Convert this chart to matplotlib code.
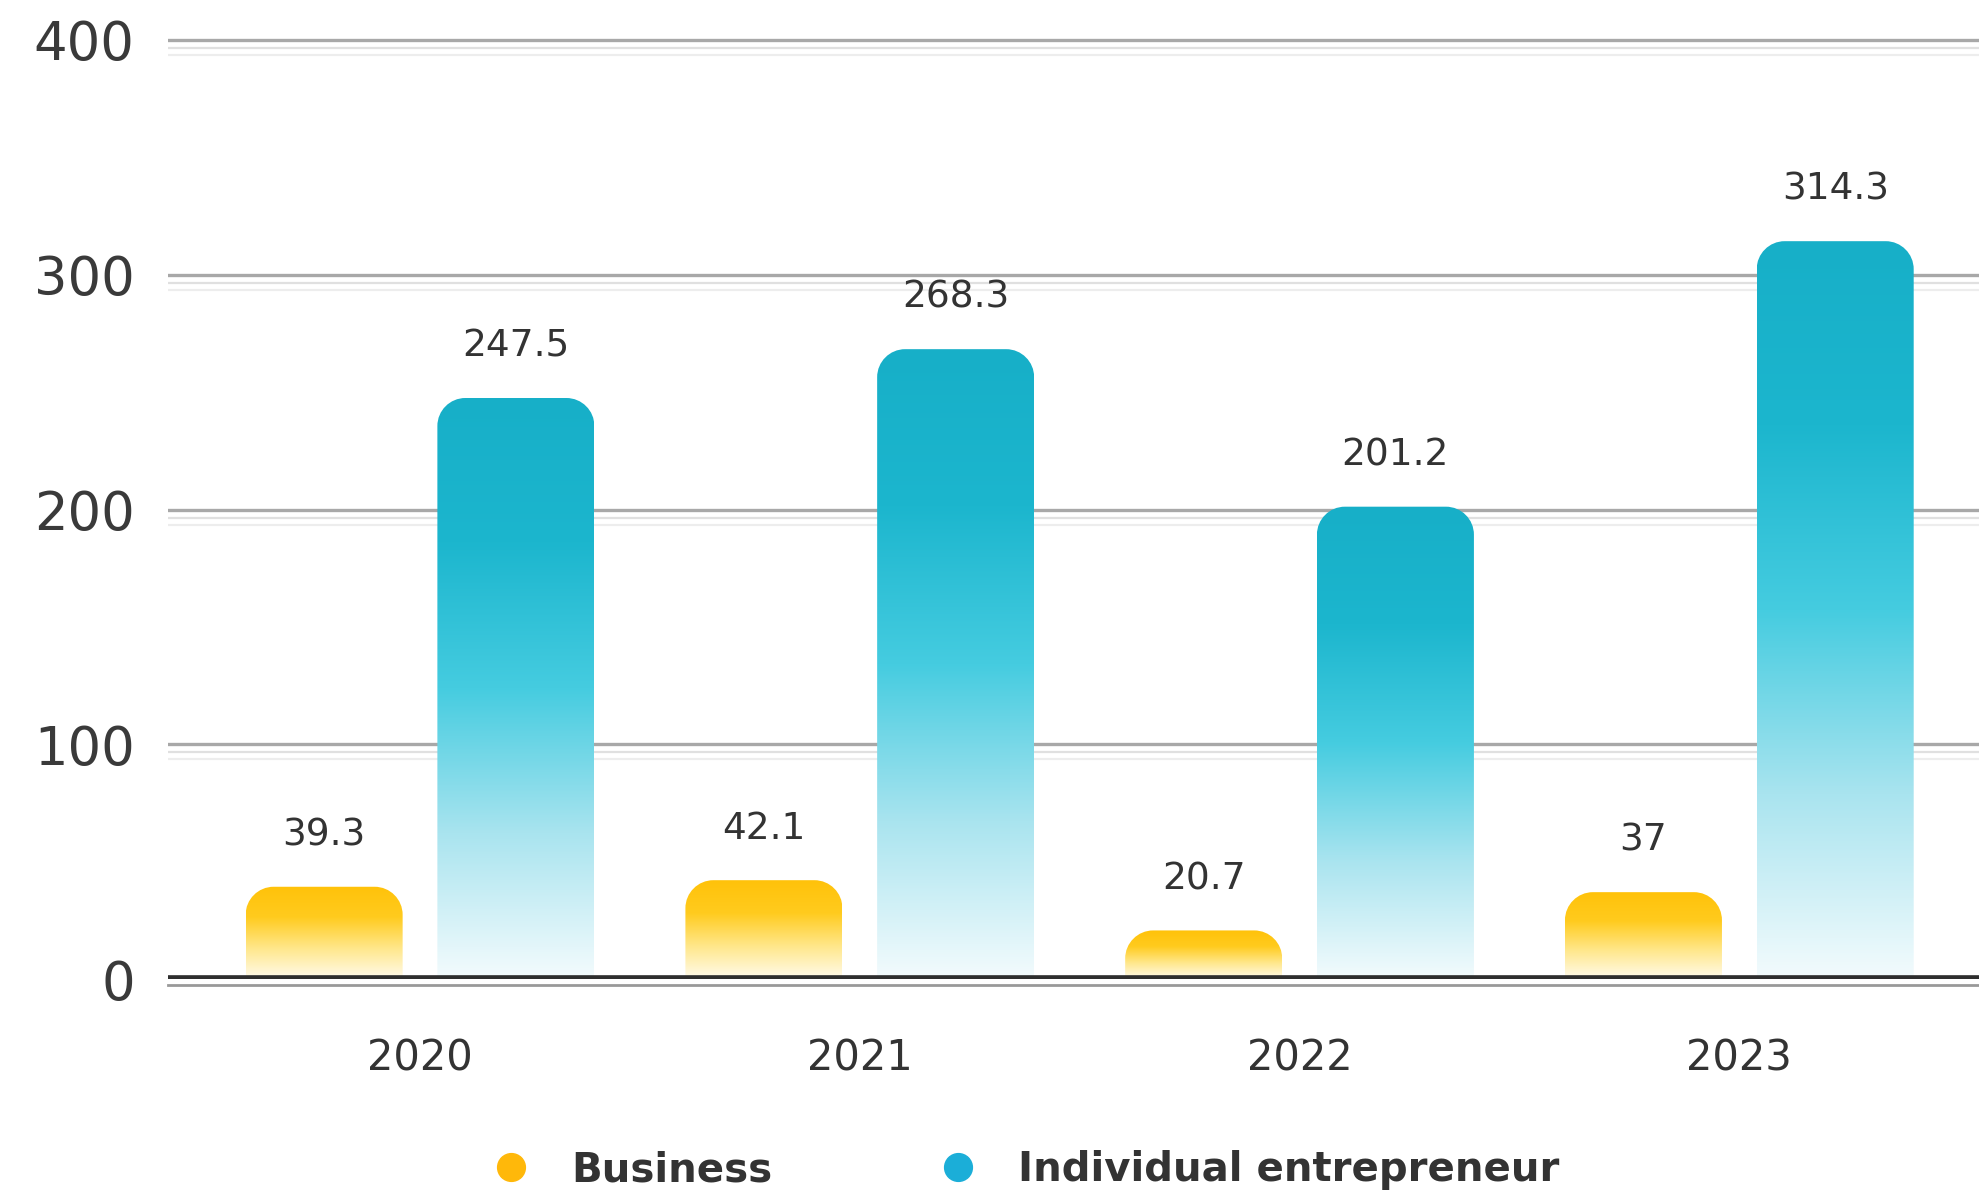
import matplotlib
matplotlib.use("Agg")
import matplotlib.pyplot as plt
import numpy as np
from matplotlib.path import Path
from matplotlib.patches import PathPatch
from matplotlib.colors import LinearSegmentedColormap
from matplotlib.lines import Line2D
from matplotlib import transforms

years = ["2020", "2021", "2022", "2023"]
business = [39.3, 42.1, 20.7, 37]
individual = [247.5, 268.3, 201.2, 314.3]
series_names = ["Business", "Individual entrepreneur"]
y_ticks = [0, 100, 200, 300, 400]

TEXT = "#333333"
BAR_W = 0.357
OFFSET = 0.218

gold_cmap = LinearSegmentedColormap.from_list(
    "gold", ["#FFFBEC", "#FFE78A", "#FFCB1E", "#FFC20A"])
blue_cmap = LinearSegmentedColormap.from_list(
    "blue", ["#F3FBFD", "#A9E4EF", "#45CCE0", "#1CB6CE", "#17AFC8"])


def rounded_top(x0, w, h, rx, ry):
    # rectangle whose two top corners are rounded (quarter ellipses in data units)
    ry = min(ry, h * 0.6)
    k = 0.5523
    verts = [
        (x0, 0), (x0, h - ry),
        (x0, h - ry + k * ry), (x0 + rx - k * rx, h), (x0 + rx, h),
        (x0 + w - rx, h),
        (x0 + w - rx + k * rx, h), (x0 + w, h - ry + k * ry), (x0 + w, h - ry),
        (x0 + w, 0), (x0, 0),
    ]
    codes = [Path.MOVETO, Path.LINETO,
             Path.CURVE4, Path.CURVE4, Path.CURVE4,
             Path.LINETO,
             Path.CURVE4, Path.CURVE4, Path.CURVE4,
             Path.LINETO, Path.CLOSEPOLY]
    return Path(verts, codes)


fig = plt.figure(figsize=(19.79, 11.97), dpi=100)
ax = fig.add_axes([0.0849, 0.1821, 0.9151, 0.8041])
xlim = (-0.573, 3.545)
ylim = (0, 410)

# corner radius ~28px converted into data units on each axis
px_x = 1979 * 0.9151 / (xlim[1] - xlim[0])
px_y = 1197 * 0.8041 / (ylim[1] - ylim[0])
rx, ry = 28 / px_x, 28 / px_y

grad = np.linspace(0, 1, 256).reshape(-1, 1)
x = np.arange(len(years))

for vals, cmap, dx in [(business, gold_cmap, -OFFSET), (individual, blue_cmap, OFFSET)]:
    for xi, v in zip(x, vals):
        x0 = xi + dx - BAR_W / 2
        patch = PathPatch(rounded_top(x0, BAR_W, v, rx, ry), facecolor="none",
                          edgecolor="none")
        ax.add_patch(patch)
        im = ax.imshow(grad, cmap=cmap, origin="lower", aspect="auto",
                       extent=[x0, x0 + BAR_W, 0, v], zorder=3)
        im.set_clip_path(patch)
        ax.annotate(f"{v:g}", (xi + dx, v), xytext=(0, 24), textcoords="offset points",
                    ha="center", va="bottom", fontsize=27, color=TEXT)

# gridlines: gray line with two faint echoes just below
for yv in y_ticks[1:]:
    ax.axhline(yv, color="#A8A8A8", lw=2.4, zorder=1)
    for dy, c in [(-8, "#E0E0E0"), (-15, "#EDEDED")]:
        tr = transforms.offset_copy(ax.transData, fig=fig, y=dy, units="dots")
        ax.plot(xlim, [yv, yv], color=c, lw=1.6, transform=tr, zorder=1)

ax.axhline(0, color="#2E2E2E", lw=5.5, zorder=4)
tr = transforms.offset_copy(ax.transData, fig=fig, y=-6, units="dots")
ax.plot(xlim, [0, 0], color="#999999", lw=2, transform=tr, zorder=4, clip_on=False)

ax.set_xlim(*xlim)
ax.set_ylim(*ylim)
ax.set_yticks(y_ticks)
ax.set_yticklabels([str(t) for t in y_ticks], fontsize=38, color="#3A3A3A")
ax.set_xticks(x)
ax.set_xticklabels(years, fontsize=30, color=TEXT)
ax.tick_params(axis="y", length=0, pad=24)
ax.tick_params(axis="x", length=0, pad=42)
for s in ax.spines.values():
    s.set_visible(False)

handles = [Line2D([], [], ls="none", marker="o", markersize=20, color="#FFB80A"),
           Line2D([], [], ls="none", marker="o", markersize=20, color="#1BAED8")]
fig.legend(handles, series_names, loc="center", bbox_to_anchor=(0.513, 0.0225),
           ncol=2, frameon=False, handletextpad=0.5, columnspacing=3.6,
           prop={"size": 29, "weight": "bold"}, labelcolor=TEXT)

fig.savefig("out.png", dpi=100, facecolor="white")
